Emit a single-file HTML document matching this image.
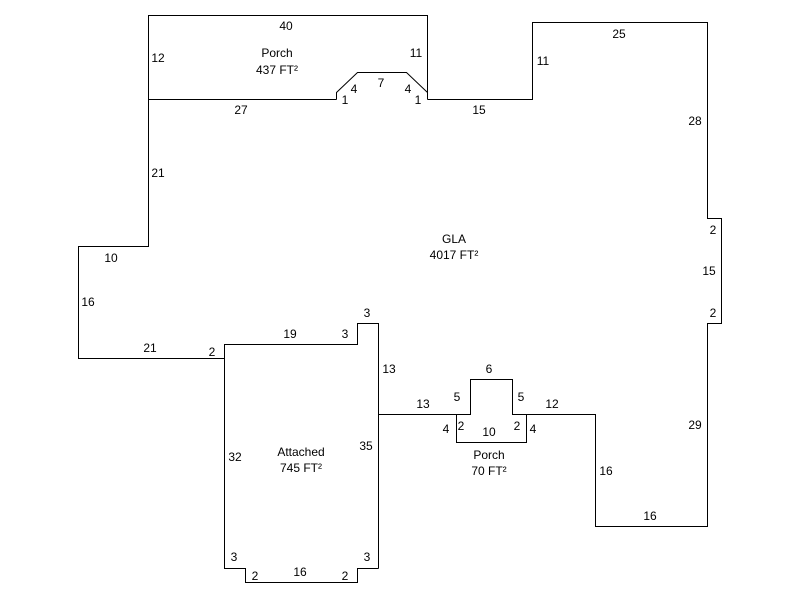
<!DOCTYPE html>
<html><head><meta charset="utf-8"><style>
html,body{margin:0;padding:0;background:#fff;}
svg{display:block}
text{font-family:"Liberation Sans",Arial,sans-serif;font-size:12px;fill:#000;text-anchor:middle;}
</style></head><body>
<svg width="800" height="600" viewBox="0 0 800 600" xmlns="http://www.w3.org/2000/svg">
<g fill="none" stroke="#000" stroke-width="1" shape-rendering="crispEdges">
<!-- porch top -->
<polyline points="148.5,99.5 148.5,15.5 427.5,15.5 427.5,99.5"/>
<polyline points="336.5,99.5 336.5,92.5 357.5,72.5 406.5,72.5 427.5,92.5" shape-rendering="auto"/>
<!-- GLA -->
<polyline points="148.5,99.5 336.5,99.5"/>
<polyline points="427.5,99.5 532.5,99.5 532.5,22.5 707.5,22.5 707.5,218.5 721.5,218.5 721.5,323.5 707.5,323.5 707.5,526.5 595.5,526.5 595.5,414.5 512.5,414.5 512.5,379.5 470.5,379.5 470.5,414.5 378.5,414.5"/>
<polyline points="378.5,568.5 378.5,323.5 357.5,323.5 357.5,344.5 224.5,344.5 224.5,358.5 78.5,358.5 78.5,246.5 148.5,246.5 148.5,99.5"/>
<!-- garage -->
<polyline points="224.5,344.5 224.5,568.5 245.5,568.5 245.5,582.5 357.5,582.5 357.5,568.5 378.5,568.5"/>
<!-- small porch -->
<polyline points="456.5,414.5 456.5,442.5 526.5,442.5 526.5,414.5"/>
</g>
<text x="286" y="30">40</text>
<text x="158" y="62">12</text>
<text x="416" y="57">11</text>
<text x="277" y="57">Porch</text>
<text x="277" y="74">437 FT²</text>
<text x="354" y="93">4</text>
<text x="381" y="87">7</text>
<text x="408" y="93">4</text>
<text x="345" y="104">1</text>
<text x="418" y="104">1</text>
<text x="241" y="114">27</text>
<text x="479" y="114">15</text>
<text x="543" y="65">11</text>
<text x="619" y="38">25</text>
<text x="695" y="125">28</text>
<text x="713" y="234">2</text>
<text x="709" y="275">15</text>
<text x="713" y="317">2</text>
<text x="695" y="429">29</text>
<text x="606" y="475">16</text>
<text x="650" y="520">16</text>
<text x="158" y="177">21</text>
<text x="111" y="262">10</text>
<text x="88" y="306">16</text>
<text x="150" y="352">21</text>
<text x="212" y="356">2</text>
<text x="290" y="338">19</text>
<text x="345" y="338">3</text>
<text x="367" y="317">3</text>
<text x="389" y="373">13</text>
<text x="454" y="243">GLA</text>
<text x="454" y="259">4017 FT²</text>
<text x="423" y="408">13</text>
<text x="457" y="401">5</text>
<text x="489" y="373">6</text>
<text x="521" y="401">5</text>
<text x="552" y="408">12</text>
<text x="446" y="433">4</text>
<text x="461" y="430">2</text>
<text x="489" y="436">10</text>
<text x="517" y="430">2</text>
<text x="533" y="433">4</text>
<text x="489" y="459">Porch</text>
<text x="489" y="475">70 FT²</text>
<text x="301" y="456">Attached</text>
<text x="301" y="472">745 FT²</text>
<text x="235" y="461">32</text>
<text x="366" y="450">35</text>
<text x="234" y="561">3</text>
<text x="367" y="561">3</text>
<text x="255" y="580">2</text>
<text x="300" y="576">16</text>
<text x="345" y="580">2</text>
</svg>
</body></html>
